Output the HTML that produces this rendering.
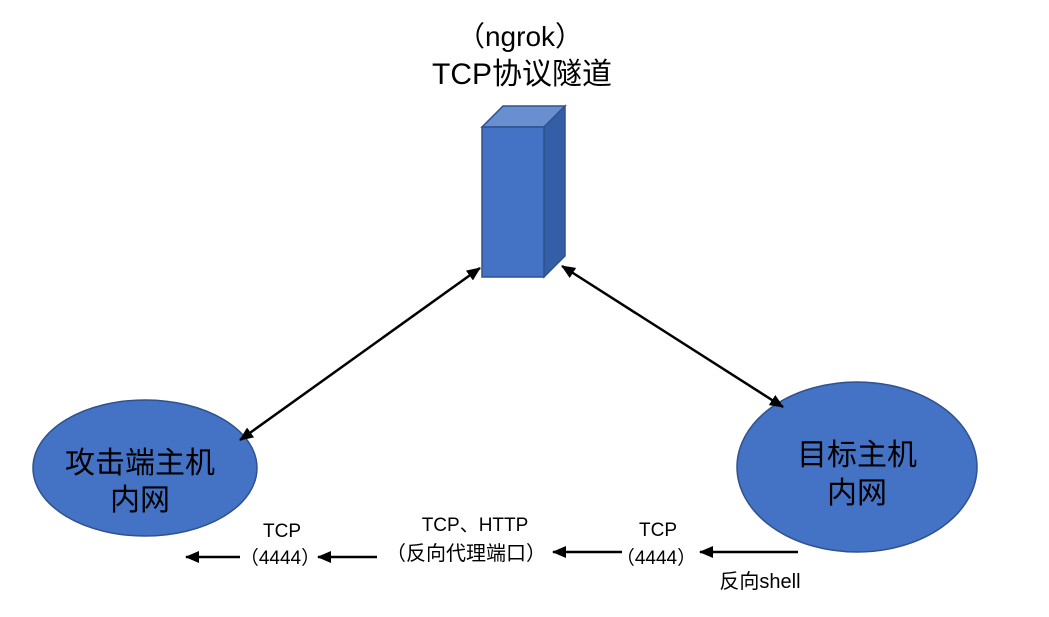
<!DOCTYPE html>
<html><head><meta charset="utf-8"><style>
body{margin:0;background:#fff}
svg text{font-family:"Liberation Sans","Noto Sans CJK SC",sans-serif;fill:#000}
</style></head><body>
<svg width="1049" height="612" viewBox="0 0 1049 612" xmlns="http://www.w3.org/2000/svg">
<defs>
<marker id="a" markerWidth="14" markerHeight="12" refX="13" refY="6" orient="auto-start-reverse" markerUnits="userSpaceOnUse" viewBox="0 0 14 12">
<path d="M0,0 L14,6 L0,12 z" fill="#000"/></marker>
</defs>
<text x="520" y="46" font-size="28" text-anchor="middle">（ngrok）</text>
<text x="522" y="84" font-size="30" text-anchor="middle">TCP协议隧道</text>
<polygon points="482,127 503,106 565,106 544,127" fill="#6a8fd0" stroke="#2f528f" stroke-width="1.5"/>
<polygon points="544,127 565,106 565,256 544,277" fill="#345ea5" stroke="#2f528f" stroke-width="1.5"/>
<rect x="482" y="127" width="62" height="150" fill="#4472c4" stroke="#2f528f" stroke-width="1.5"/>
<ellipse cx="145" cy="468" rx="112" ry="68" fill="#4472c4" stroke="#2f528f" stroke-width="1.5"/>
<ellipse cx="857" cy="467" rx="120" ry="85" fill="#4472c4" stroke="#2f528f" stroke-width="1.5"/>
<text x="140" y="473" font-size="30" text-anchor="middle">攻击端主机</text>
<text x="140" y="510" font-size="30" text-anchor="middle">内网</text>
<text x="857" y="465" font-size="30" text-anchor="middle">目标主机</text>
<text x="857" y="503" font-size="30" text-anchor="middle">内网</text>
<line x1="240" y1="440" x2="480" y2="268" stroke="#000" stroke-width="2.5" marker-start="url(#a)" marker-end="url(#a)"/>
<line x1="562" y1="266" x2="783" y2="407" stroke="#000" stroke-width="2.5" marker-start="url(#a)" marker-end="url(#a)"/>
<g stroke="#000" stroke-width="2.5">
<line x1="240" y1="557" x2="186" y2="557" marker-end="url(#a)"/>
<line x1="377" y1="557" x2="318" y2="557" marker-end="url(#a)"/>
<line x1="622" y1="552" x2="553" y2="552" marker-end="url(#a)"/>
<line x1="798" y1="552" x2="700" y2="552" marker-end="url(#a)"/>
</g>
<text x="282" y="537" font-size="19" text-anchor="middle">TCP</text>
<text x="280" y="564" font-size="19" text-anchor="middle">（4444）</text>
<text x="475" y="531" font-size="19" text-anchor="middle">TCP、HTTP</text>
<text x="466" y="560" font-size="20" text-anchor="middle">（反向代理端口）</text>
<text x="658" y="536" font-size="19" text-anchor="middle">TCP</text>
<text x="656" y="564" font-size="19" text-anchor="middle">（4444）</text>
<text x="760" y="588" font-size="20" text-anchor="middle">反向shell</text>
</svg>
</body></html>
